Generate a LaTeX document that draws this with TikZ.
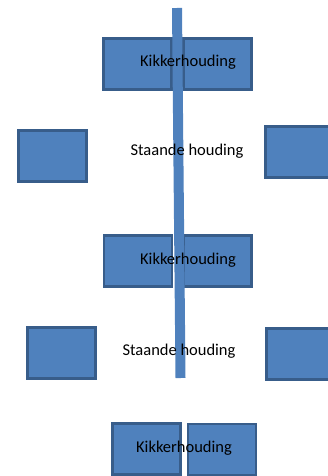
\documentclass[tikz,border=0pt]{standalone}
\usepackage{fontspec}
\setmainfont{Carlito}
\definecolor{vlak}{HTML}{4F81BD}
\definecolor{rand}{HTML}{385D8A}

\begin{document}
\begin{tikzpicture}[x=1pt,y=-1pt,
    blok/.style={draw=rand,fill=vlak,line width=2.8pt,minimum width=68pt,minimum height=51pt,inner sep=0pt,outer sep=0pt},
    paal/.style={draw=vlak,line width=10pt},
    tekst/.style={font=\fontsize{16.5}{18}\selectfont,inner sep=0pt}]
  \useasboundingbox (0,0) rectangle (328,476);

  % kikkerhouding: twee blokken naast elkaar
  \node[blok] (k1l) at (137.5,64) {};
  \node[blok] (k1r) at (217.5,64) {};
  \node[blok] (k2l) at (138,261) {};
  \node[blok] (k2r) at (217.5,261) {};
  \node[blok] (k3l) at (146.5,449) {};
  \node[blok] (k3r) at (222,449.5) {};

  % staande houding: blokken ver uit elkaar
  \node[blok] (s1l) at (52.5,156) {};
  \node[blok] (s1r) at (299.5,152) {};
  \node[blok] (s2l) at (61.5,353) {};
  \node[blok] (s2r) at (300.5,354) {};

  \coordinate (boven) at (177,8);
  \coordinate (onder) at (180.5,378);
  \draw[paal] (boven) -- (onder);

  \node[tekst] (t1) at (188,62) {Kikkerhouding};
  \node[tekst] (t2) at (187,151) {Staande houding};
  \node[tekst] (t3) at (188,260) {Kikkerhouding};
  \node[tekst] (t4) at (179,351) {Staande houding};
  \node[tekst] (t5) at (184,448) {Kikkerhouding};
\end{tikzpicture}
\end{document}
